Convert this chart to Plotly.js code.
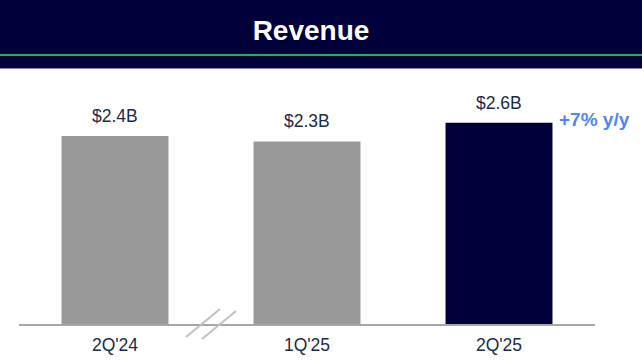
<!DOCTYPE html>
<html>
<head>
<meta charset="utf-8">
<script src="https://cdn.plot.ly/plotly-3.0.1.min.js"></script>
<style>
  html, body { margin: 0; padding: 0; background: #ffffff; }
  #chart { width: 642px; height: 362px; }
</style>
</head>
<body>
<div id="chart"></div>
<script>
// ---- data ----
const chartTitle = "Revenue";
const categories = ["2Q'24", "1Q'25", "2Q'25"];
const revenue = [2.40, 2.33, 2.57];           // $B
const valueLabels = ["$2.4B", "$2.3B", "$2.6B"];
const barColors = ["#999999", "#999999", "#00003a"];
const growthLabel = "+7% y/y";

// ---- layout constants ----
const W = 642, H = 362;
const M = { l: 19, r: 47, t: 68, b: 38 };
const plotW = W - M.l - M.r, plotH = H - M.t - M.b;
const font = "Liberation Sans, Arial, Helvetica, sans-serif";
const navy = "#00003a";
const textColor = "#1c2b4b";

// paper-coordinate helpers (pixels from top-left of the page)
const px = x => (x - M.l) / plotW;
const py = y => (H - M.b - y) / plotH;

const trace = {
  type: "bar",
  x: categories,
  y: revenue,
  marker: { color: barColors, line: { width: 0 } },
  hoverinfo: "none"
};

const annotations = categories.map((c, i) => ({
  x: c, y: revenue[i], xref: "x", yref: "y",
  text: valueLabels[i], showarrow: false,
  xanchor: "center", yanchor: "bottom", yshift: 8,
  font: { family: font, size: 17.5, color: textColor }
}));
annotations.push({
  x: categories[2], y: revenue[2], xref: "x", yref: "y",
  text: "<b>" + growthLabel + "</b>", showarrow: false,
  xanchor: "left", yanchor: "middle", xshift: 58, yshift: 3,
  font: { family: font, size: 19, color: "#4f86f7" }
});

const shapes = [
  // header band
  { type: "rect", xref: "paper", yref: "paper", layer: "below",
    x0: px(0), x1: px(W), y0: py(68), y1: py(0),
    fillcolor: navy, line: { width: 0 } },
  { type: "line", xref: "paper", yref: "paper",
    x0: px(0), x1: px(W), y0: py(68.5), y1: py(68.5),
    line: { color: "#8a8aa8", width: 1 } },
  // green rule
  { type: "line", xref: "paper", yref: "paper",
    x0: px(0), x1: px(W), y0: py(55), y1: py(55),
    line: { color: "#22b14c", width: 2 } },
  // axis break marks between first and second category
  { type: "line", xref: "x", yref: "paper",
    xsizemode: "pixel", xanchor: 0.5, ysizemode: "pixel", yanchor: 0,
    x0: -25, y0: -13, x1: 9, y1: 15,
    line: { color: "#c0c0c0", width: 2 } },
  { type: "line", xref: "x", yref: "paper",
    xsizemode: "pixel", xanchor: 0.5, ysizemode: "pixel", yanchor: 0,
    x0: -9, y0: -15, x1: 25, y1: 13,
    line: { color: "#c0c0c0", width: 2 } }
];

const layout = {
  width: W, height: H,
  margin: M,
  paper_bgcolor: "#ffffff",
  plot_bgcolor: "rgba(0,0,0,0)",
  showlegend: false,
  bargap: 0.443,
  title: {
    text: "<b>" + chartTitle + "</b>",
    font: { family: font, size: 28, color: "#ffffff" },
    xref: "paper", x: px(311), xanchor: "center",
    yref: "container", y: 1 - 30 / H, yanchor: "middle"
  },
  xaxis: {
    type: "category",
    range: [-0.5, 2.5],
    showline: true, linecolor: "#a6a6a6", linewidth: 1.5,
    showgrid: false, zeroline: false,
    ticks: "", ticklabelstandoff: 4,
    tickfont: { family: font, size: 17.5, color: textColor },
    fixedrange: true
  },
  yaxis: {
    range: [0, plotH / 78.33],
    visible: false, showgrid: false, zeroline: false,
    fixedrange: true
  },
  annotations: annotations,
  shapes: shapes
};

Plotly.newPlot("chart", [trace], layout, { displayModeBar: false, staticPlot: true });
</script>
</body>
</html>
